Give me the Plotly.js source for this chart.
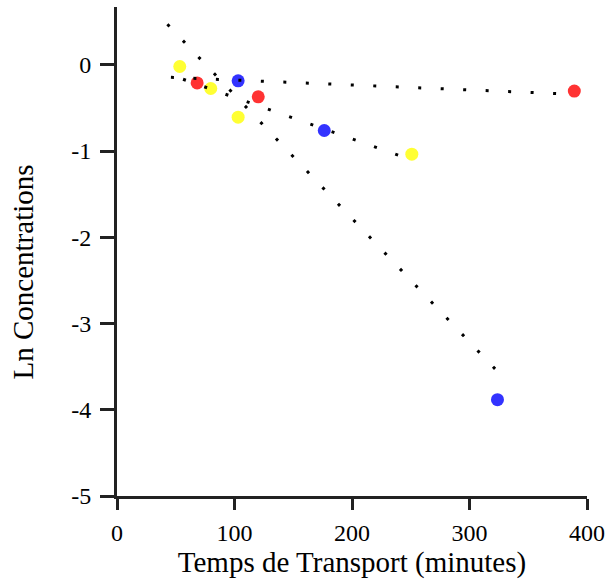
<!DOCTYPE html>
<html>
<head>
<meta charset="utf-8">
<script src="https://cdn.plot.ly/plotly-3.0.1.min.js"></script>
<style>html,body{margin:0;padding:0;background:#fff;}#chart{width:608px;height:581px;}</style>
</head>
<body>
<div id="chart"></div>
<script>
// Data points (transport time in minutes, ln concentration)
const redX = [68.2, 120.2, 389.2];
const redY = [-0.21, -0.371, -0.305];
const yellowX = [53.4, 79.8, 103.1, 250.9];
const yellowY = [-0.02, -0.275, -0.607, -1.036];
const blueX = [103.1, 176.4, 323.8];
const blueY = [-0.186, -0.762, -3.883];

// Dotted trend lines (endpoints)
const line1X = [45.9, 374.3];
const line1Y = [-0.146, -0.334];
const line2X = [56.2, 239.3];
const line2Y = [-0.168, -1.047];
const line3X = [42.9, 321.9];
const line3Y = [0.469, -3.528];

const xTicks = [0, 100, 200, 300, 400];
const yTicks = [0, -1, -2, -3, -4, -5];

const markerSize = 13;
const dotLine = {color: '#000', width: 3, dash: '3px,19.5px'};

const traces = [
  {x: redX, y: redY, mode: 'markers', type: 'scatter', marker: {color: '#ff3333', size: markerSize}},
  {x: yellowX, y: yellowY, mode: 'markers', type: 'scatter', marker: {color: '#ffff33', size: markerSize}},
  {x: blueX, y: blueY, mode: 'markers', type: 'scatter', marker: {color: '#3333ff', size: markerSize}},
  {x: line1X, y: line1Y, mode: 'lines', type: 'scatter', line: dotLine},
  {x: line2X, y: line2Y, mode: 'lines', type: 'scatter', line: dotLine},
  {x: line3X, y: line3Y, mode: 'lines', type: 'scatter', line: dotLine}
];

const font = 'Liberation Serif, Times New Roman, serif';

const layout = {
  width: 608, height: 581,
  margin: {l: 117, r: 21, t: 7, b: 85},
  paper_bgcolor: '#fff', plot_bgcolor: '#fff',
  showlegend: false,
  font: {family: font, color: '#000', size: 24},
  xaxis: {
    range: [0, 400], tickvals: xTicks, ticktext: xTicks.map(String),
    showgrid: false, zeroline: false, showline: true, linecolor: '#222', linewidth: 3,
    ticks: 'outside', ticklen: 11, tickwidth: 3, tickcolor: '#222',
    tickfont: {family: font, size: 24, color: '#000'},
    ticklabelstandoff: 2,
    title: {text: 'Temps de Transport (minutes)', font: {family: font, size: 29, color: '#000'}, standoff: 2}
  },
  yaxis: {
    range: [-5, 0.67], tickvals: yTicks, ticktext: yTicks.map(String),
    showgrid: false, zeroline: false, showline: true, linecolor: '#222', linewidth: 3,
    ticks: 'outside', ticklen: 14, tickwidth: 3, tickcolor: '#222',
    tickfont: {family: font, size: 24, color: '#000'},
    ticklabelstandoff: 4
  },
  annotations: [{
    text: 'Ln Concentrations', xref: 'paper', yref: 'paper', x: -0.199, y: 0.458,
    xanchor: 'center', yanchor: 'middle', textangle: -90, showarrow: false,
    font: {family: font, size: 29, color: '#000'}
  }]
};

Plotly.newPlot('chart', traces, layout, {displayModeBar: false, staticPlot: true});
</script>
</body>
</html>
